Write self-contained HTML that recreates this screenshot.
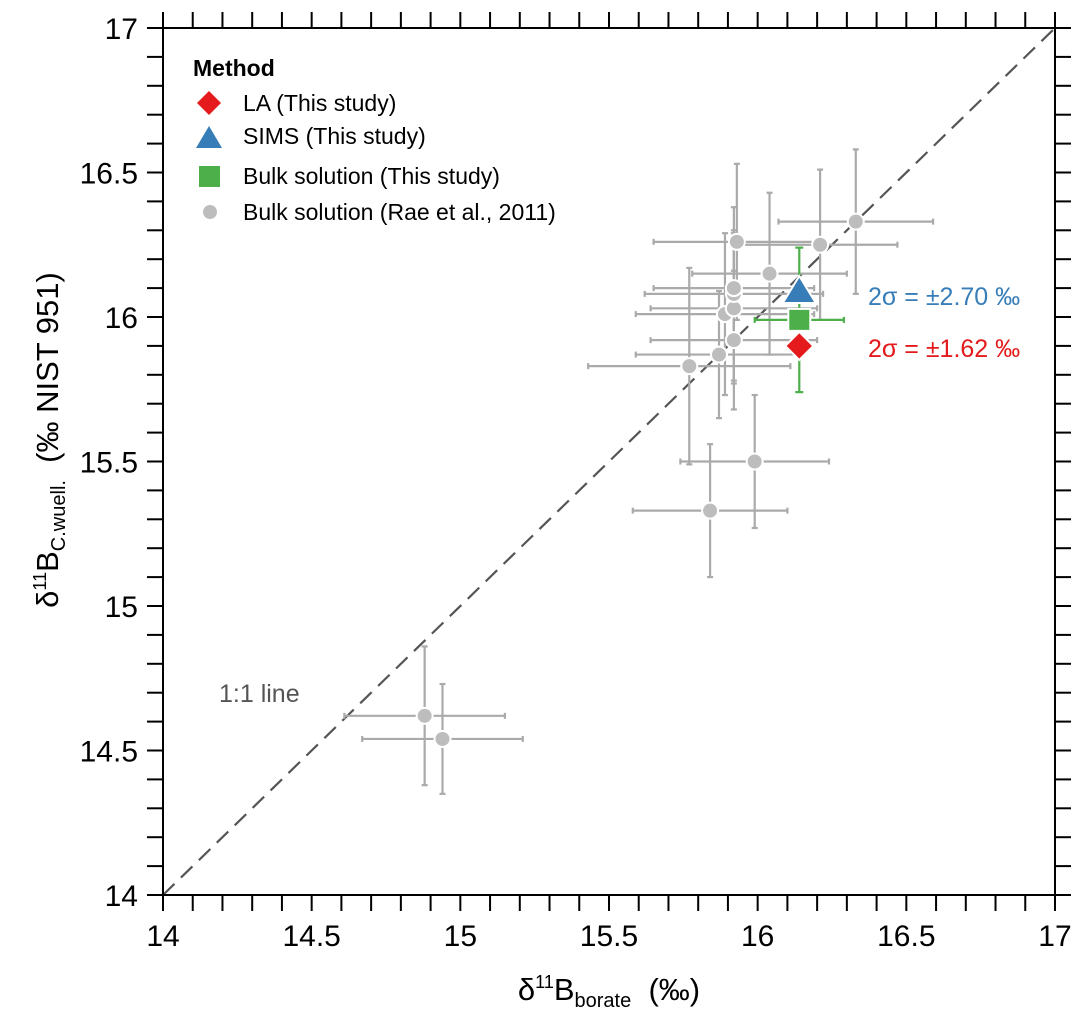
<!DOCTYPE html>
<html><head><meta charset="utf-8"><style>body{margin:0;background:#fff}svg{display:block;font-family:"Liberation Sans",Arial,sans-serif}</style></head>
<body>
<svg id="c" width="1085" height="1019"></svg>
<script>
const px=[14.88,14.94,15.84,15.99,15.77,15.87,15.92,15.89,15.92,15.92,15.92,15.93,16.04,16.21,16.33];
const py=[14.62,14.54,15.33,15.50,15.83,15.87,15.92,16.01,16.03,16.08,16.10,16.26,16.15,16.25,16.33];
const pxe=[0.27,0.27,0.26,0.25,0.34,0.28,0.28,0.3,0.28,0.3,0.27,0.28,0.26,0.26,0.26];
const pye=[0.24,0.19,0.23,0.23,0.34,0.22,0.24,0.28,0.26,0.3,0.2,0.27,0.28,0.26,0.25];
const bulk=[16.14,15.99,0.15,0.25];
const la=[16.14,15.90];
const sims=[16.14,16.09];
const ticks=[14,14.5,15,15.5,16,16.5,17];
const tickLabels=["14","14.5","15","15.5","16","16.5","17"];
const NS="http://www.w3.org/2000/svg",svg=document.getElementById('c');
const X=v=>163+(v-14)*297.33, Y=v=>895-(v-14)*289;
function el(t,a,p){const e=document.createElementNS(NS,t);for(const k in a)e.setAttribute(k,a[k]);(p||svg).appendChild(e);return e;}
function txt(s,a){const e=el('text',a);e.textContent=s;return e;}
let l=el('line',{x1:X(14),y1:Y(14),x2:X(17),y2:Y(17),stroke:'#555','stroke-width':2.2,'stroke-dasharray':'16,9'});

const g=el('g',{stroke:'#aaa','stroke-width':2.2});

for(let i=0;i<px.length;i++){
 const cx=X(px[i]),cy=Y(py[i]),x1=X(px[i]-pxe[i]),x2=X(px[i]+pxe[i]),y1=Y(py[i]-pye[i]),y2=Y(py[i]+pye[i]);
 el('line',{x1:x1,y1:cy,x2:x2,y2:cy},g);el('line',{x1:cx,y1:y1,x2:cx,y2:y2},g);
 el('line',{x1:x1,y1:cy-3,x2:x1,y2:cy+3},g);el('line',{x1:x2,y1:cy-3,x2:x2,y2:cy+3},g);
 el('line',{x1:cx-3,y1:y1,x2:cx+3,y2:y1},g);el('line',{x1:cx-3,y1:y2,x2:cx+3,y2:y2},g);
}
for(let i=0;i<px.length;i++){const c=el('circle',{cx:X(px[i]),cy:Y(py[i]),r:8,fill:'#bdbdbd',stroke:'#fff','stroke-width':2});
}
const gg=el('g',{stroke:'#4daf4a','stroke-width':2.2});

{const cx=X(bulk[0]),cy=Y(bulk[1]),x1=X(bulk[0]-bulk[2]),x2=X(bulk[0]+bulk[2]),y1=Y(bulk[1]-bulk[3]),y2=Y(bulk[1]+bulk[3]);
el('line',{x1:x1,y1:cy,x2:x2,y2:cy},gg);el('line',{x1:cx,y1:y1,x2:cx,y2:y2},gg);
el('line',{x1:x1,y1:cy-3,x2:x1,y2:cy+3},gg);el('line',{x1:x2,y1:cy-3,x2:x2,y2:cy+3},gg);
el('line',{x1:cx-4,y1:y1,x2:cx+4,y2:y1},gg);el('line',{x1:cx-4,y1:y2,x2:cx+4,y2:y2},gg);}
function sq(cx,cy,s,n){const e=el('rect',{x:cx-s,y:cy-s,width:2*s,height:2*s,fill:'#4daf4a',stroke:'#fff','stroke-width':2});}
function tri(cx,cy,s,n){const e=el('polygon',{points:`${cx},${cy-s} ${cx+s*1.1},${cy+s*0.8} ${cx-s*1.1},${cy+s*0.8}`,fill:'#377eb8',stroke:'#fff','stroke-width':2});}
function dia(cx,cy,s,n){const e=el('polygon',{points:`${cx},${cy-s} ${cx+s},${cy} ${cx},${cy+s} ${cx-s},${cy}`,fill:'#e41a1c',stroke:'#fff','stroke-width':2});}
sq(X(bulk[0]),Y(bulk[1]),11,'bulk-point');
tri(X(sims[0]),Y(sims[1]),15,'sims-point');
dia(X(la[0]),Y(la[1]),14,'la-point');
let f=el('rect',{x:163,y:28,width:892,height:867,fill:'none',stroke:'#000','stroke-width':2});

const tk=el('g',{stroke:'#000','stroke-width':2});

for(let k=0;k<=30;k++){const v=14+k*0.1,x=X(v),y=Y(v);
 el('line',{x1:x,y1:895,x2:x,y2:911},tk);el('line',{x1:x,y1:28,x2:x,y2:12},tk);
 el('line',{x1:163,y1:y,x2:147,y2:y},tk);el('line',{x1:1055,y1:y,x2:1071,y2:y},tk);}
ticks.forEach((v,i)=>{
 let t=txt(tickLabels[i],{x:X(v),y:946,'font-size':30,'text-anchor':'middle'});
 t=txt(tickLabels[i],{x:138,y:Y(v)+11,'font-size':30,'text-anchor':'end'});
});
svg.insertAdjacentHTML('beforeend',`
<text x="609" y="1000" font-size="31" text-anchor="middle">δ<tspan dy="-12" font-size="18">11</tspan><tspan dy="12">B</tspan><tspan dy="7" font-size="20">borate</tspan><tspan dy="-7">&#160;&#160;(‰)</tspan></text>
<text transform="translate(58,440) rotate(-90)" font-size="31" text-anchor="middle">δ<tspan dy="-12" font-size="18">11</tspan><tspan dy="12">B</tspan><tspan dy="7" font-size="20">C.wuell.</tspan><tspan dy="-7">&#160;&#160;(‰ NIST 951)</tspan></text>
<text x="219" y="702" font-size="25" fill="#555">1:1 line</text>
<text x="868" y="305" font-size="25" fill="#377eb8">2σ = ±2.70 ‰</text>
<text x="868" y="357" font-size="25" fill="#e41a1c">2σ = ±1.62 ‰</text>
<g font-size="23">
<text x="193" y="76" font-weight="bold">Method</text>
<polygon points="209,91 221,103 209,115 197,103" fill="#e41a1c"/><text x="243" y="111">LA (This study)</text>
<polygon points="209,126 222,148 196,148" fill="#377eb8"/><text x="243" y="144">SIMS (This study)</text>
<rect x="199" y="166" width="21" height="21" fill="#4daf4a"/><text x="243" y="184">Bulk solution (This study)</text>
<circle cx="210" cy="212" r="7" fill="#bdbdbd"/><text x="243" y="220">Bulk solution (Rae et al., 2011)</text>
</g>`);
</script>
</body></html>
